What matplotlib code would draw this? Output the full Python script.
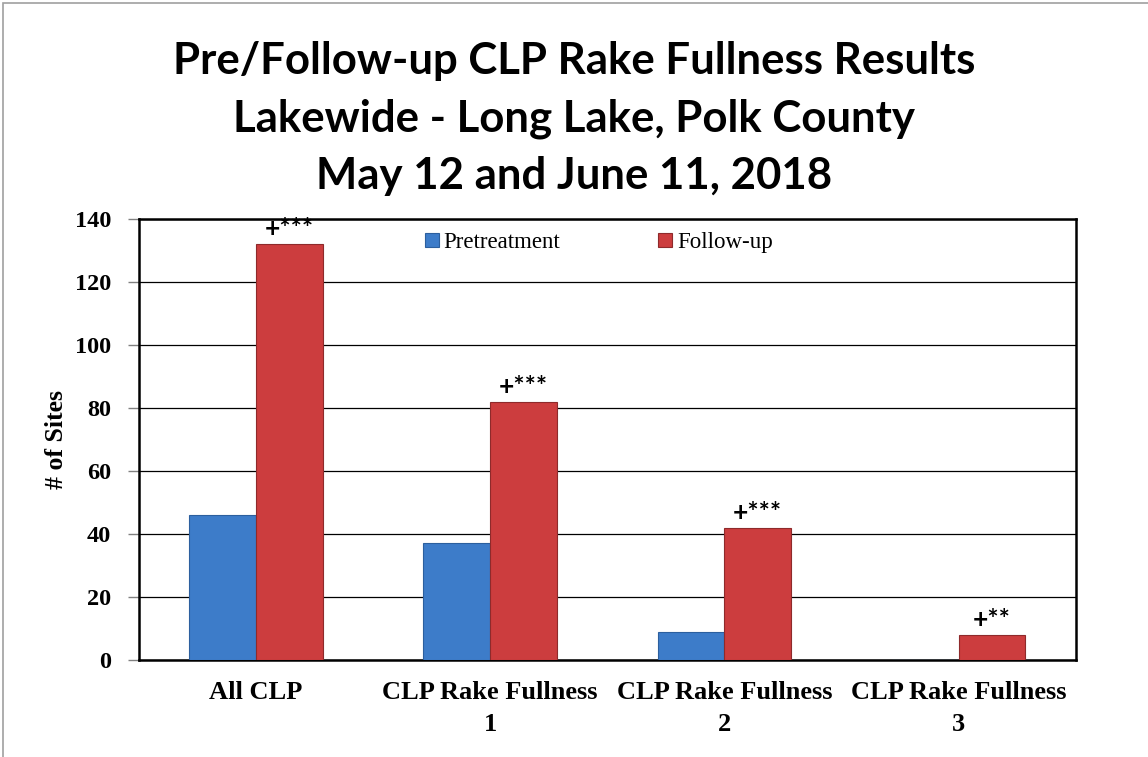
import matplotlib.pyplot as plt
from matplotlib.patches import Rectangle
import numpy as np

# data
categories = ["All CLP", "CLP Rake Fullness\n1", "CLP Rake Fullness\n2", "CLP Rake Fullness\n3"]
pretreatment = [46, 37, 9, 0]
follow_up = [132, 82, 42, 8]
signif = ["+***", "+***", "+***", "+**"]

fig = plt.figure(figsize=(11.48, 7.57), dpi=100)
ax = fig.add_axes([0.121, 0.128, 0.816, 0.583])

# chart area border (gray, only left and top visible)
fig.patches.append(Rectangle((0.003, -0.01), 1.2, 1.006, transform=fig.transFigure,
                             fill=False, edgecolor="#a0a0a0", linewidth=1.2))

x = np.arange(len(categories))
w = 0.285
ax.bar(x - w / 2, pretreatment, w, color="#3d7cc9", edgecolor="#2c5f9e", linewidth=0.8,
       label="Pretreatment", zorder=3)
ax.bar(x + w / 2, follow_up, w, color="#cc3d3e", edgecolor="#8e2a2b", linewidth=0.8,
       label="Follow-up", zorder=3)

for xi, v, s in zip(x, follow_up, signif):
    ax.text(xi + w / 2, v + 0.8, s, ha="center", va="bottom", fontsize=19,
            fontweight="bold", family="Lato")

ax.set_xlim(-0.5, 3.5)
ax.set_ylim(0, 140)
ax.set_yticks(range(0, 141, 20))
ax.yaxis.grid(True, color="black", linewidth=0.9, zorder=0)
ax.set_axisbelow(True)
for sp in ax.spines.values():
    sp.set_linewidth(1.8)
    sp.set_color("black")

ax.set_xticks(x)
ax.set_xticklabels(categories, fontsize=19, fontweight="bold", family="Liberation Serif",
                   linespacing=1.5)
ax.tick_params(axis="x", length=0, pad=15)
ax.tick_params(axis="y", direction="out", length=8, width=1, color="#808080", pad=12)
for lab in ax.get_yticklabels():
    lab.set_fontsize(17.5)
    lab.set_fontweight("bold")
    lab.set_family("Liberation Serif")

ax.set_ylabel("# of Sites", fontsize=18.5, fontweight="bold", family="Liberation Serif",
              labelpad=5)

ax.legend(loc="center left", bbox_to_anchor=(0.293, 0.946), ncol=2, frameon=False,
          prop={"family": "Liberation Serif", "size": 16.5}, handlelength=0.6,
          handleheight=0.6, handletextpad=0.2, borderpad=0, columnspacing=4.3)

fig.text(0.5, 0.843, "Pre/Follow-up CLP Rake Fullness Results\nLakewide - Long Lake, Polk County\nMay 12 and June 11, 2018",
         ha="center", va="center", fontsize=31.5, fontweight="bold", family="Lato",
         linespacing=1.52)

fig.savefig("out.png", dpi=100)
